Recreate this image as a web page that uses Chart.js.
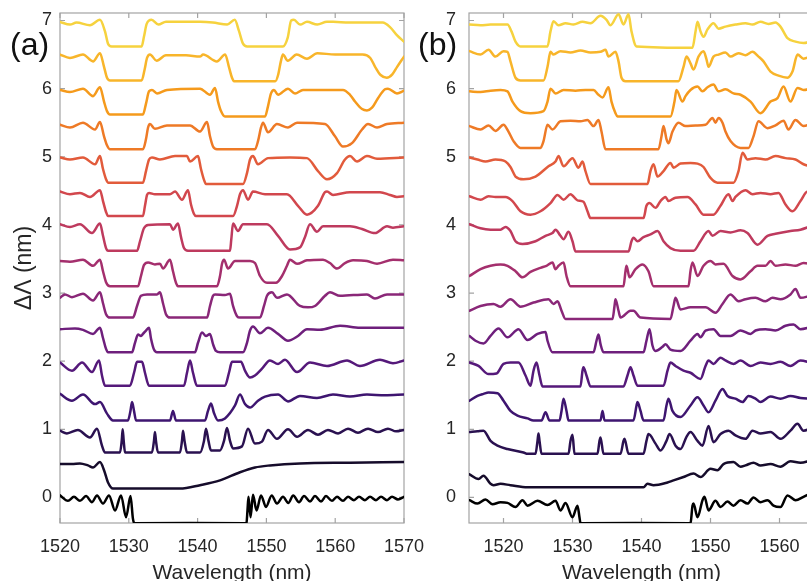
<!DOCTYPE html>
<html>
<head>
<meta charset="utf-8">
<script src="https://cdn.jsdelivr.net/npm/chart.js@4.4.1/dist/chart.umd.min.js"></script>
<style>
  html, body { margin: 0; padding: 0; background: #fff; }
  body { width: 807px; height: 581px; overflow: hidden; position: relative; }
  canvas { position: absolute; top: 0; }
  #panelA { left: 0; }
  #panelB { left: 400px; }
</style>
</head>
<body>
<canvas id="panelA" width="440" height="600"></canvas>
<canvas id="panelB" width="480" height="600"></canvas>
<script>
// period offsets (nm) of the stacked spectra, bottom to top
const offsets = [0, 0.5, 1, 1.5, 2, 2.5, 3, 3.5, 4, 4.5, 5, 5.5, 6, 6.5, 7];
const traceColors = [
  "#000000", "#160c2b", "#2a1150", "#3e1570", "#55197a", "#6e1f7c",
  "#8a2778", "#a42f6d", "#be3a5e", "#d2474d", "#e25b3b", "#ee7a26",
  "#f59a1c", "#f8b52a", "#f6d23e"
];
const xTicksA = [1520, 1530, 1540, 1550, 1560, 1570];
const xTicksB = [1520, 1530, 1540, 1550, 1560];
const yTicks = [0, 1, 2, 3, 4, 5, 6, 7];

// (a) simulated spectra, [wavelength nm, shifted level]
const a00 = [[1520,0.03],[1521.16,-0.05],[1522.03,0.01],[1522.9,-0.05],[1523.78,0.02],[1524.65,-0.07],[1525.38,0.03],[1526.25,-0.09],[1527.12,0.03],[1528.0,-0.19],[1528.87,0.03],[1529.6,-0.29],[1530.25,0.02],[1530.6,-0.31],[1530.8,-0.38],[1547.1,-0.38],[1547.25,-0.19],[1547.4,0.01],[1547.7,-0.29],[1548.05,0.04],[1548.56,-0.19],[1549.22,0.03],[1549.94,-0.14],[1550.77,0.03],[1551.54,-0.09],[1552.41,0.01],[1553.18,-0.08],[1553.9,0.03],[1554.74,-0.07],[1555.47,0.02],[1556.34,-0.06],[1557.06,0.02],[1557.94,-0.06],[1558.66,0.02],[1559.53,-0.05],[1560.26,0.01],[1561.13,-0.05],[1561.86,0.01],[1562.73,-0.04],[1563.46,0.01],[1564.33,-0.04],[1565.06,0.01],[1565.93,-0.04],[1566.66,0.01],[1567.53,-0.04],[1568.26,0.01],[1569.13,-0.03],[1570,0.01]];
const a05 = [[1520,0.49],[1521.74,0.49],[1522.9,0.5],[1524.07,0.47],[1524.8,0.44],[1525.81,0.52],[1526.4,0.4],[1526.98,0.22],[1527.7,0.13],[1528.72,0.13],[1537.44,0.13],[1540.35,0.18],[1543.26,0.25],[1546.16,0.37],[1548.34,0.44],[1550.52,0.47],[1554.88,0.5],[1562.15,0.51],[1570,0.52]];
const a10 = [[1520,0.98],[1521.0,0.94],[1522.6,0.99],[1524.36,0.88],[1525.38,1.01],[1526.1,0.76],[1526.54,0.66],[1528.72,0.66],[1528.97,0.83],[1529.11,1.0],[1529.26,0.83],[1529.45,0.66],[1533.37,0.66],[1533.66,0.83],[1533.8,0.96],[1533.95,0.83],[1534.24,0.66],[1537.44,0.66],[1537.73,0.83],[1537.88,0.98],[1538.1,0.83],[1538.46,0.66],[1540.35,0.66],[1540.93,0.83],[1541.22,1.01],[1541.58,0.83],[1541.95,0.69],[1543.26,0.69],[1543.84,0.83],[1544.27,1.02],[1544.71,0.83],[1545.15,0.72],[1546.45,0.75],[1547.33,1.01],[1548.34,0.79],[1549.36,0.82],[1550.23,0.99],[1551.54,0.86],[1553.14,1.0],[1554.45,0.89],[1556.05,0.99],[1557.5,0.92],[1558.95,0.99],[1560.41,0.94],[1561.86,1.01],[1563.31,0.95],[1564.77,1.01],[1566.22,0.96],[1567.67,1.01],[1568.84,0.97],[1570,0.99]];
const a15 = [[1520,1.52],[1521.74,1.42],[1523.34,1.51],[1525.09,1.37],[1525.81,1.4],[1526.83,1.23],[1527.7,1.13],[1529.88,1.13],[1530.24,1.27],[1530.47,1.4],[1530.76,1.27],[1531.05,1.13],[1535.99,1.13],[1536.42,1.27],[1536.86,1.13],[1541.08,1.13],[1541.51,1.27],[1541.95,1.38],[1542.38,1.24],[1542.97,1.13],[1543.98,1.16],[1545.44,1.35],[1546.16,1.51],[1546.89,1.37],[1547.62,1.32],[1548.78,1.42],[1549.8,1.48],[1551.69,1.51],[1553.14,1.41],[1554.88,1.49],[1557.35,1.46],[1559.68,1.51],[1562.15,1.48],[1564.62,1.51],[1567.24,1.5],[1570,1.51]];
const a20 = [[1520,1.98],[1521.74,1.86],[1523.2,1.98],[1524.65,1.84],[1525.67,2.01],[1526.1,1.79],[1526.54,1.64],[1530.17,1.64],[1530.76,1.83],[1531.2,1.99],[1531.92,1.99],[1532.35,1.83],[1532.94,1.64],[1538.02,1.64],[1538.46,1.83],[1538.9,2.01],[1539.33,1.83],[1539.91,1.64],[1543.98,1.64],[1544.56,1.83],[1545.0,1.99],[1546.31,1.99],[1546.89,1.86],[1547.62,1.76],[1548.34,1.79],[1549.36,1.89],[1550.52,2.01],[1551.69,1.96],[1552.7,2.02],[1554.45,1.84],[1556.34,1.98],[1558.81,1.93],[1561.72,2.01],[1563.6,1.93],[1566.51,2.02],[1568.4,1.97],[1570,2.01]];
const a25 = [[1520,2.47],[1522.18,2.48],[1523.34,2.46],[1524.8,2.4],[1525.81,2.49],[1526.25,2.34],[1526.69,2.18],[1526.98,2.13],[1530.47,2.13],[1530.9,2.27],[1531.34,2.39],[1531.77,2.37],[1532.06,2.4],[1532.5,2.45],[1532.94,2.49],[1533.23,2.33],[1533.66,2.17],[1534.1,2.13],[1539.62,2.13],[1540.06,2.27],[1540.64,2.42],[1541.22,2.37],[1541.8,2.4],[1542.24,2.25],[1542.67,2.15],[1543.26,2.13],[1546.6,2.13],[1547.18,2.27],[1547.62,2.45],[1548.05,2.51],[1549.07,2.41],[1550.23,2.49],[1551.69,2.4],[1553.14,2.3],[1554.59,2.37],[1555.9,2.47],[1557.79,2.46],[1560.7,2.52],[1563.6,2.49],[1570,2.49]];
const a30 = [[1520,2.93],[1520.73,2.98],[1521.74,2.94],[1523.34,2.99],[1524.8,2.89],[1525.81,3.01],[1526.25,2.85],[1526.69,2.69],[1527.27,2.64],[1530.6,2.64],[1531.2,2.81],[1531.77,2.96],[1532.65,2.98],[1534.1,2.98],[1534.53,3.01],[1534.97,2.85],[1535.4,2.69],[1535.99,2.64],[1541.37,2.64],[1541.8,2.81],[1542.24,2.96],[1542.53,2.98],[1543.98,2.97],[1544.71,2.99],[1545.15,2.81],[1545.73,2.66],[1546.16,2.64],[1549.07,2.64],[1549.65,2.81],[1550.09,2.96],[1550.81,3.01],[1551.54,2.93],[1552.99,2.98],[1554.88,2.81],[1556.05,2.79],[1557.06,2.81],[1558.52,2.96],[1559.24,3.01],[1560.7,2.96],[1564.62,2.98],[1565.78,2.92],[1567.53,2.98],[1570,2.98]];
const a35 = [[1520,3.47],[1521.45,3.46],[1523.34,3.49],[1524.8,3.4],[1525.81,3.49],[1526.25,3.32],[1526.69,3.16],[1527.27,3.1],[1531.34,3.1],[1531.77,3.25],[1532.2,3.41],[1532.8,3.45],[1533.8,3.42],[1534.53,3.43],[1534.97,3.36],[1535.99,3.49],[1536.42,3.32],[1536.86,3.15],[1537.15,3.1],[1542.82,3.1],[1543.26,3.25],[1543.55,3.43],[1543.84,3.49],[1544.42,3.36],[1545.44,3.47],[1547.62,3.47],[1548.34,3.44],[1549.07,3.25],[1550.09,3.15],[1551.4,3.15],[1552.27,3.25],[1552.99,3.4],[1553.43,3.49],[1554.45,3.43],[1555.9,3.48],[1558.23,3.49],[1559.24,3.44],[1560.26,3.36],[1561.42,3.44],[1562.59,3.48],[1564.62,3.47],[1566.08,3.43],[1568.4,3.49],[1570,3.48]];
const a40 = [[1520,4.01],[1521.45,3.97],[1522.9,4.01],[1524.65,3.88],[1525.81,4.02],[1526.25,3.84],[1526.69,3.66],[1526.98,3.62],[1531.2,3.62],[1531.63,3.76],[1532.2,3.95],[1532.8,4.0],[1535.99,4.01],[1536.42,3.93],[1537.15,4.02],[1537.59,3.82],[1538.02,3.66],[1538.6,3.62],[1544.71,3.62],[1544.9,3.79],[1545.15,4.02],[1545.87,3.91],[1546.6,4.01],[1550.09,4.01],[1551.69,3.84],[1553.43,3.64],[1554.88,3.67],[1555.6,3.82],[1556.34,4.01],[1557.35,3.9],[1558.23,3.98],[1562.15,3.98],[1563.9,3.94],[1565.78,3.88],[1567.53,3.98],[1568.4,3.96],[1570,3.98]];
const a45 = [[1520,4.49],[1521.45,4.45],[1522.9,4.47],[1524.36,4.41],[1525.81,4.51],[1526.25,4.35],[1526.69,4.19],[1526.98,4.13],[1532.06,4.13],[1532.35,4.28],[1532.65,4.44],[1532.94,4.47],[1533.8,4.45],[1535.99,4.45],[1536.72,4.49],[1537.73,4.37],[1538.6,4.51],[1539.04,4.3],[1539.48,4.16],[1539.77,4.13],[1545.15,4.13],[1545.73,4.28],[1546.16,4.45],[1546.6,4.51],[1547.33,4.37],[1548.05,4.49],[1549.8,4.45],[1552.99,4.45],[1554.59,4.28],[1555.9,4.15],[1557.5,4.28],[1558.52,4.48],[1558.81,4.49],[1559.68,4.44],[1562.15,4.48],[1566.51,4.48],[1567.97,4.44],[1568.98,4.41],[1570,4.42]];
const a50 = [[1520,4.99],[1521.45,4.96],[1523.34,4.99],[1525.09,4.89],[1525.81,5.01],[1526.25,4.82],[1526.69,4.67],[1526.98,4.62],[1532.06,4.62],[1532.5,4.79],[1532.94,4.96],[1533.37,4.99],[1534.53,4.96],[1536.72,5.01],[1538.46,5.01],[1538.9,4.93],[1540.06,5.01],[1540.49,4.82],[1540.93,4.66],[1541.22,4.6],[1546.6,4.6],[1547.18,4.76],[1547.62,4.96],[1548.05,5.01],[1548.78,4.89],[1550.23,4.98],[1553.43,4.99],[1555.9,4.98],[1557.5,4.79],[1558.81,4.67],[1560.26,4.76],[1561.42,4.96],[1562.15,5.01],[1563.17,4.93],[1564.62,5.01],[1566.08,4.97],[1570,4.99]];
const a55 = [[1520,5.47],[1521.45,5.43],[1523.34,5.5],[1525.09,5.4],[1525.81,5.51],[1526.4,5.3],[1526.83,5.17],[1527.27,5.11],[1532.06,5.11],[1532.5,5.26],[1532.8,5.43],[1533.08,5.48],[1533.8,5.41],[1535.55,5.46],[1538.9,5.46],[1540.35,5.37],[1541.37,5.51],[1541.8,5.3],[1542.24,5.15],[1542.82,5.11],[1548.34,5.11],[1548.78,5.23],[1549.22,5.43],[1549.51,5.5],[1550.23,5.36],[1551.54,5.48],[1553.14,5.43],[1554.45,5.5],[1558.52,5.48],[1559.97,5.3],[1561.13,5.15],[1562.44,5.2],[1563.9,5.4],[1564.77,5.48],[1566.08,5.43],[1567.53,5.48],[1570,5.5]];
const a60 = [[1520,5.98],[1521.45,5.95],[1523.34,6.0],[1524.8,5.89],[1525.81,6.02],[1526.4,5.81],[1526.83,5.67],[1527.27,5.62],[1532.06,5.62],[1532.5,5.78],[1532.94,5.96],[1533.37,5.98],[1534.1,5.93],[1535.55,5.98],[1540.35,6.0],[1541.8,5.91],[1542.53,6.01],[1542.97,5.81],[1543.4,5.67],[1543.98,5.59],[1549.8,5.59],[1550.23,5.74],[1550.67,5.93],[1551.1,5.98],[1551.69,5.91],[1553.14,6.0],[1554.16,5.93],[1555.32,5.98],[1561.13,5.98],[1562.15,5.91],[1562.88,5.81],[1563.9,5.7],[1564.62,5.68],[1565.35,5.72],[1566.22,5.86],[1567.24,5.99],[1567.67,6.0],[1568.98,5.93],[1570,5.97]];
const a65 = [[1520,6.5],[1521.45,6.45],[1523.34,6.5],[1524.8,6.4],[1525.81,6.52],[1526.4,6.32],[1526.83,6.16],[1527.27,6.12],[1531.87,6.12],[1532.3,6.28],[1532.65,6.45],[1533.08,6.5],[1534.05,6.41],[1535.4,6.49],[1538.31,6.49],[1540.35,6.47],[1540.8,6.5],[1542.8,6.4],[1544.0,6.5],[1544.6,6.3],[1545.0,6.16],[1545.3,6.11],[1551.3,6.11],[1551.7,6.2],[1552.1,6.4],[1552.4,6.5],[1553.1,6.41],[1554.4,6.5],[1555.9,6.44],[1557.4,6.52],[1560,6.5],[1564.0,6.5],[1565.1,6.45],[1565.8,6.32],[1566.6,6.2],[1567.5,6.16],[1568.3,6.21],[1569.0,6.32],[1570,6.47]];
const a70 = [[1520,6.98],[1521.45,6.94],[1522.4,6.97],[1524.36,6.93],[1525.81,7.01],[1526.54,6.84],[1526.98,6.66],[1527.5,6.62],[1531.87,6.62],[1532.2,6.76],[1532.6,6.95],[1533.3,7.01],[1534.3,6.94],[1535.4,6.98],[1537.4,6.98],[1540.35,6.98],[1542.2,6.97],[1544.3,6.94],[1545.4,7.01],[1546.0,6.85],[1546.6,6.66],[1547.2,6.62],[1552.4,6.62],[1553.1,6.75],[1553.6,7.0],[1554.0,7.01],[1554.9,6.94],[1555.9,6.98],[1557.4,6.94],[1558.8,6.98],[1559.7,6.98],[1562.0,6.97],[1564.5,6.97],[1566.9,6.97],[1568.0,6.9],[1569.0,6.78],[1570,6.69]];

// (b) measured spectra
const b00 = [[1515.07,-0.04],[1516.23,-0.09],[1517.39,-0.03],[1518.41,-0.1],[1519.57,-0.07],[1520.58,-0.08],[1521.74,-0.14],[1522.75,-0.04],[1523.48,-0.12],[1524.93,-0.05],[1526.38,-0.11],[1527.54,-0.05],[1528.26,-0.19],[1528.99,-0.08],[1530.0,-0.29],[1530.72,-0.12],[1531.01,-0.29],[1531.16,-0.38],[1547.1,-0.38],[1547.39,-0.12],[1547.54,-0.09],[1548.12,-0.29],[1548.84,-0.04],[1549.13,0.01],[1549.71,-0.19],[1550.72,-0.05],[1551.45,-0.14],[1552.46,-0.06],[1553.33,-0.12],[1554.35,-0.04],[1555.36,-0.09],[1556.23,0.0],[1557.25,-0.07],[1558.26,-0.04],[1559.13,-0.12],[1560.14,-0.14],[1561.16,0.03],[1562.32,-0.04],[1563.48,0.01],[1564.49,0.06]];
const b05 = [[1515.07,0.34],[1516.38,0.27],[1517.1,0.32],[1518.12,0.2],[1518.55,0.18],[1519.57,0.2],[1521.01,0.18],[1523.48,0.15],[1528.26,0.15],[1534.06,0.15],[1540.29,0.15],[1540.87,0.2],[1541.74,0.18],[1543.77,0.22],[1544.64,0.25],[1546.09,0.3],[1547.54,0.35],[1548.55,0.3],[1550.0,0.42],[1551.01,0.4],[1551.88,0.49],[1553.33,0.52],[1554.35,0.45],[1555.07,0.47],[1556.23,0.51],[1557.25,0.47],[1558.7,0.49],[1560.14,0.45],[1561.59,0.53],[1563.04,0.51],[1564.49,0.54]];
const b10 = [[1515.07,0.96],[1516.23,0.97],[1517.1,0.98],[1518.12,0.83],[1519.13,0.76],[1520.58,0.71],[1522.9,0.66],[1523.48,0.64],[1524.64,0.64],[1524.93,0.83],[1525.07,0.94],[1525.22,0.83],[1525.51,0.64],[1529.42,0.64],[1529.71,0.83],[1530.0,0.92],[1530.29,0.64],[1533.62,0.64],[1533.91,0.83],[1534.06,0.88],[1534.49,0.64],[1536.96,0.64],[1537.39,0.83],[1537.54,0.86],[1538.12,0.64],[1540.29,0.64],[1540.72,0.83],[1541.01,0.93],[1542.03,0.79],[1542.75,0.69],[1543.62,0.83],[1544.06,0.93],[1544.93,0.76],[1545.65,0.71],[1546.52,0.89],[1547.1,0.96],[1548.12,0.83],[1548.84,0.76],[1549.71,1.05],[1550.43,0.81],[1551.45,0.93],[1552.61,0.98],[1553.62,0.91],[1555.07,0.86],[1556.09,0.98],[1557.25,0.94],[1558.7,0.96],[1560.14,0.86],[1561.59,0.98],[1562.61,1.08],[1563.48,0.98],[1564.49,1.01]];
const b15 = [[1515.07,1.42],[1516.23,1.49],[1517.1,1.52],[1517.83,1.54],[1519.13,1.53],[1520.0,1.42],[1521.01,1.27],[1522.03,1.2],[1523.48,1.16],[1524.35,1.13],[1525.51,1.13],[1526.09,1.25],[1526.67,1.13],[1528.12,1.13],[1528.41,1.27],[1528.7,1.45],[1529.13,1.27],[1529.42,1.13],[1534.06,1.13],[1534.35,1.27],[1534.64,1.13],[1538.84,1.13],[1539.28,1.35],[1539.42,1.4],[1539.86,1.27],[1540.29,1.13],[1543.19,1.13],[1543.62,1.35],[1543.91,1.45],[1544.49,1.27],[1545.65,1.18],[1547.1,1.35],[1548.12,1.47],[1548.99,1.35],[1549.71,1.25],[1550.72,1.42],[1551.74,1.59],[1552.46,1.49],[1553.62,1.45],[1554.64,1.4],[1555.51,1.49],[1556.52,1.45],[1557.25,1.4],[1558.7,1.48],[1560.14,1.45],[1561.59,1.49],[1563.04,1.46],[1564.49,1.45]];
const b20 = [[1515.07,1.98],[1516.38,1.93],[1517.83,1.81],[1518.99,1.82],[1520.0,1.96],[1521.01,1.98],[1522.17,1.98],[1523.19,1.79],[1523.91,1.64],[1524.35,1.86],[1524.78,1.98],[1525.22,1.79],[1525.65,1.63],[1531.16,1.63],[1531.45,1.86],[1531.59,1.91],[1532.03,1.79],[1532.61,1.63],[1537.39,1.63],[1537.97,1.79],[1538.41,1.91],[1538.84,1.79],[1539.42,1.64],[1543.19,1.64],[1543.77,1.86],[1544.2,1.98],[1544.93,1.93],[1546.09,1.86],[1547.1,1.83],[1548.55,1.74],[1549.28,1.93],[1549.71,2.01],[1550.43,1.96],[1551.45,2.05],[1552.17,2.01],[1553.33,1.96],[1554.35,2.01],[1555.8,1.93],[1557.25,1.98],[1558.7,1.96],[1560.14,1.99],[1561.59,1.93],[1563.04,2.01],[1564.49,1.98]];
const b25 = [[1515.07,2.37],[1515.94,2.3],[1517.1,2.26],[1518.12,2.37],[1519.28,2.48],[1520.58,2.35],[1522.17,2.47],[1523.48,2.31],[1524.93,2.4],[1526.09,2.43],[1526.38,2.3],[1527.1,2.13],[1533.04,2.13],[1533.48,2.3],[1533.77,2.39],[1534.06,2.25],[1534.49,2.13],[1540.29,2.13],[1540.72,2.3],[1541.16,2.47],[1541.59,2.23],[1542.03,2.15],[1543.04,2.21],[1543.48,2.25],[1544.2,2.17],[1545.65,2.15],[1547.1,2.3],[1548.12,2.4],[1548.55,2.35],[1549.28,2.45],[1550.43,2.47],[1551.45,2.37],[1552.9,2.37],[1554.35,2.45],[1555.8,2.4],[1556.52,2.45],[1557.97,2.47],[1559.42,2.45],[1560.87,2.52],[1562.03,2.54],[1563.04,2.47],[1564.49,2.5]];
const b30 = [[1515.07,2.74],[1516.67,2.81],[1518.55,2.84],[1519.57,2.8],[1521.01,2.91],[1522.46,2.8],[1524.35,2.86],[1526.52,2.91],[1527.25,2.84],[1527.83,2.88],[1528.41,2.74],[1528.99,2.62],[1535.8,2.62],[1536.09,2.81],[1536.23,2.91],[1536.67,2.74],[1536.96,2.64],[1538.41,2.74],[1538.84,2.74],[1539.86,2.64],[1544.2,2.62],[1544.64,2.81],[1544.93,2.93],[1545.65,2.76],[1547.1,2.79],[1549.28,2.79],[1550.72,2.71],[1551.74,2.84],[1552.9,2.98],[1554.06,2.88],[1555.07,2.91],[1556.52,2.93],[1557.97,2.88],[1558.99,2.93],[1560.14,2.91],[1561.59,2.98],[1562.32,3.06],[1563.04,2.93],[1564.49,2.96]];
const b35 = [[1515.07,3.25],[1516.67,3.35],[1518.12,3.4],[1519.57,3.42],[1520.58,3.4],[1521.74,3.32],[1522.75,3.23],[1523.91,3.31],[1525.36,3.37],[1526.23,3.4],[1527.1,3.45],[1527.54,3.35],[1527.97,3.4],[1528.7,3.45],[1529.13,3.25],[1529.71,3.1],[1537.39,3.1],[1537.68,3.32],[1537.83,3.4],[1538.26,3.23],[1539.13,3.35],[1540.14,3.42],[1541.01,3.32],[1541.74,3.1],[1546.81,3.1],[1547.1,3.32],[1547.39,3.45],[1548.12,3.25],[1548.99,3.4],[1550.0,3.47],[1550.72,3.42],[1551.88,3.43],[1553.19,3.25],[1554.35,3.2],[1555.8,3.32],[1556.81,3.4],[1557.97,3.4],[1558.7,3.47],[1559.42,3.4],[1560.87,3.42],[1562.32,3.4],[1563.48,3.44],[1564.49,3.43]];
const b40 = [[1515.07,4.01],[1516.67,3.95],[1518.12,3.93],[1519.57,3.93],[1520.29,3.97],[1521.01,3.91],[1521.74,3.76],[1522.75,3.72],[1524.64,3.76],[1526.09,3.84],[1527.1,3.88],[1527.54,3.93],[1528.26,3.84],[1528.7,3.79],[1529.42,3.9],[1530.0,3.76],[1530.43,3.61],[1538.12,3.61],[1538.55,3.76],[1538.84,3.81],[1539.42,3.76],[1540.29,3.82],[1541.3,3.86],[1542.32,3.91],[1543.19,3.76],[1544.2,3.66],[1545.65,3.62],[1547.54,3.62],[1548.55,3.76],[1549.71,3.91],[1550.29,3.84],[1551.45,3.91],[1552.9,3.89],[1554.35,3.92],[1555.36,3.88],[1556.81,3.71],[1558.26,3.84],[1559.42,3.87],[1561.59,3.91],[1563.04,3.93],[1564.49,3.98]];
const b45 = [[1515.07,4.42],[1516.67,4.37],[1517.83,4.42],[1518.84,4.41],[1520.29,4.41],[1521.3,4.35],[1522.46,4.2],[1523.91,4.15],[1525.36,4.2],[1526.81,4.32],[1527.83,4.44],[1528.7,4.37],[1529.71,4.45],[1530.72,4.36],[1531.59,4.34],[1532.17,4.2],[1532.61,4.1],[1540.29,4.1],[1540.72,4.28],[1541.16,4.32],[1542.03,4.25],[1542.75,4.35],[1543.48,4.41],[1543.91,4.35],[1544.93,4.4],[1546.67,4.41],[1547.83,4.3],[1548.99,4.15],[1550.43,4.15],[1551.45,4.28],[1552.61,4.45],[1553.19,4.35],[1553.62,4.41],[1555.07,4.51],[1556.09,4.45],[1557.25,4.47],[1558.7,4.45],[1559.86,4.47],[1560.87,4.3],[1561.88,4.2],[1563.04,4.35],[1564.06,4.49],[1564.49,4.49]];
const b50 = [[1515.07,4.99],[1516.23,4.96],[1517.39,4.93],[1518.84,4.96],[1520.29,4.93],[1521.01,4.85],[1521.74,4.71],[1522.9,4.67],[1524.64,4.71],[1526.52,4.86],[1527.54,4.93],[1527.97,5.01],[1528.7,4.86],[1530.0,4.98],[1530.87,4.84],[1531.45,4.93],[1531.88,4.79],[1532.61,4.6],[1540.87,4.6],[1541.3,4.79],[1541.74,4.89],[1542.32,4.71],[1543.19,4.79],[1544.2,4.91],[1544.64,4.84],[1545.65,4.9],[1547.1,4.91],[1548.12,4.9],[1548.99,4.85],[1550.0,4.69],[1551.01,4.62],[1553.33,4.62],[1554.06,4.79],[1554.64,5.06],[1555.36,4.96],[1556.52,4.98],[1557.97,4.96],[1559.42,5.01],[1560.87,4.98],[1562.32,4.96],[1563.48,4.89],[1564.49,4.86]];
const b55 = [[1515.07,5.45],[1516.67,5.4],[1517.83,5.46],[1518.84,5.38],[1520.0,5.47],[1520.72,5.37],[1521.45,5.23],[1522.46,5.13],[1525.36,5.13],[1525.8,5.23],[1526.38,5.47],[1527.1,5.4],[1528.26,5.52],[1529.71,5.53],[1531.16,5.52],[1532.17,5.54],[1533.04,5.45],[1533.77,5.54],[1534.2,5.37],[1534.78,5.11],[1542.46,5.11],[1542.9,5.3],[1543.19,5.45],[1543.62,5.26],[1543.91,5.2],[1544.49,5.37],[1545.36,5.5],[1546.38,5.45],[1547.83,5.46],[1549.28,5.47],[1550.29,5.57],[1550.72,5.5],[1551.16,5.57],[1551.74,5.5],[1552.17,5.37],[1552.9,5.23],[1554.35,5.13],[1555.51,5.13],[1556.23,5.3],[1556.96,5.52],[1558.26,5.42],[1559.42,5.46],[1560.58,5.53],[1561.3,5.4],[1562.32,5.54],[1563.48,5.45],[1564.49,5.48]];
const b60 = [[1515.07,5.96],[1516.67,5.95],[1518.12,5.97],[1519.57,5.98],[1520.58,5.96],[1521.3,5.81],[1522.46,5.67],[1523.91,5.64],[1525.8,5.67],[1526.38,5.81],[1526.81,6.0],[1527.54,5.93],[1528.7,5.98],[1530.43,5.97],[1531.88,5.98],[1533.04,5.98],[1533.77,5.91],[1534.35,5.87],[1535.22,6.02],[1535.65,5.81],[1536.23,5.64],[1536.52,5.59],[1544.2,5.59],[1544.78,5.81],[1545.07,5.98],[1545.94,5.81],[1546.38,5.89],[1547.1,5.98],[1548.12,6.03],[1548.84,5.96],[1549.57,6.02],[1550.43,6.06],[1551.16,5.96],[1552.17,5.99],[1553.33,5.93],[1554.35,5.91],[1555.8,5.81],[1557.25,5.64],[1558.7,5.81],[1559.71,5.86],[1560.58,6.03],[1561.59,5.81],[1562.61,6.01],[1563.48,5.98],[1564.49,6.0]];
const b65 = [[1515.07,6.55],[1516.67,6.5],[1517.83,6.57],[1518.84,6.47],[1520.0,6.55],[1520.58,6.54],[1521.01,6.4],[1521.74,6.16],[1522.46,6.12],[1525.8,6.12],[1526.38,6.32],[1526.81,6.54],[1527.25,6.5],[1528.26,6.55],[1529.71,6.53],[1531.16,6.56],[1532.61,6.53],[1534.06,6.54],[1534.78,6.57],[1535.22,6.47],[1536.23,6.54],[1536.67,6.4],[1537.1,6.16],[1537.68,6.11],[1545.36,6.11],[1546.09,6.32],[1546.52,6.47],[1547.1,6.37],[1547.54,6.28],[1548.26,6.47],[1548.99,6.55],[1549.42,6.43],[1549.71,6.32],[1550.43,6.47],[1551.16,6.5],[1552.17,6.53],[1552.9,6.47],[1554.06,6.52],[1555.07,6.49],[1556.09,6.54],[1556.96,6.47],[1557.68,6.4],[1558.7,6.25],[1559.86,6.19],[1561.16,6.16],[1561.88,6.25],[1562.61,6.5],[1563.48,6.44],[1564.49,6.47]];
const b70 = [[1515.07,6.94],[1516.67,6.93],[1518.12,6.94],[1519.13,6.94],[1520.58,6.94],[1521.16,6.84],[1521.74,6.69],[1522.46,6.62],[1526.38,6.62],[1526.81,6.84],[1527.25,6.99],[1527.97,6.93],[1528.99,6.96],[1530.14,6.94],[1531.45,6.98],[1532.61,6.96],[1534.06,7.07],[1534.93,7.01],[1535.51,6.93],[1536.67,7.09],[1537.39,6.94],[1538.12,7.09],[1538.55,6.84],[1539.28,6.62],[1547.39,6.6],[1547.83,6.84],[1548.12,6.98],[1548.55,6.84],[1548.99,6.76],[1549.57,6.87],[1550.43,6.96],[1551.16,6.88],[1552.17,6.91],[1553.62,6.94],[1555.07,6.96],[1556.09,6.94],[1557.25,6.98],[1558.41,6.95],[1559.42,6.97],[1560.14,6.91],[1561.16,6.74],[1562.32,6.69],[1563.48,6.67],[1564.49,6.69]];

const seriesA = [a00, a05, a10, a15, a20, a25, a30, a35, a40, a45, a50, a55, a60, a65, a70];
const seriesB = [b00, b05, b10, b15, b20, b25, b30, b35, b40, b45, b50, b55, b60, b65, b70];

Chart.defaults.font.family = "'Liberation Sans', Arial, sans-serif";
Chart.defaults.color = "#262626";

// box around the plot area with short inward ticks on all four sides
const frame = {
  id: "frame",
  beforeDatasetsDraw(chart) {
    const {ctx, chartArea: {left, right, top, bottom}, scales: {x, y}} = chart;
    ctx.save();
    ctx.strokeStyle = "#a3a3a3";
    ctx.lineWidth = 1.2;
    ctx.strokeRect(left, top, right - left, bottom - top);
    ctx.beginPath();
    x.ticks.forEach(t => {
      const px = x.getPixelForValue(t.value);
      ctx.moveTo(px, bottom); ctx.lineTo(px, bottom - 5);
      ctx.moveTo(px, top); ctx.lineTo(px, top + 5);
    });
    y.ticks.forEach(t => {
      const py = y.getPixelForValue(t.value);
      ctx.moveTo(left, py); ctx.lineTo(left + 5, py);
      ctx.moveTo(right, py); ctx.lineTo(right - 5, py);
    });
    ctx.stroke();
    ctx.restore();
  },
  afterDraw(chart, args, opts) {
    const ctx = chart.ctx;
    ctx.save();
    ctx.font = "32px 'Liberation Sans', Arial, sans-serif";
    ctx.fillStyle = "#111";
    ctx.textBaseline = "alphabetic";
    ctx.fillText(opts.letter, opts.letterX, 55);
    ctx.restore();
  }
};

function buildPanel(id, series, xMin, xMax, xTicks, opt) {
  const datasets = series.map((pts, i) => ({
    label: "ΔΛ = " + offsets[i],
    data: pts.map(([x, y]) => ({x, y})),
    borderColor: traceColors[i],
    borderWidth: 2.5,
    pointRadius: 0,
    cubicInterpolationMode: "monotone",
    borderJoinStyle: "round",
    borderCapStyle: "round"
  }));

  return new Chart(document.getElementById(id), {
    type: "line",
    data: {datasets},
    options: {
      responsive: false,
      animation: false,
      devicePixelRatio: 1,
      layout: {padding: {top: 13, right: opt.padRight, bottom: 0, left: 0}},
      plugins: {
        legend: {display: false},
        tooltip: {enabled: false},
        frame: {letter: opt.letter, letterX: opt.letterX}
      },
      scales: {
        x: {
          type: "linear",
          min: xMin,
          max: xMax,
          grid: {display: false},
          border: {display: false},
          afterBuildTicks: s => { s.ticks = xTicks.map(v => ({value: v})); },
          afterFit: s => { s.height = 77; s.paddingLeft = 0; s.paddingRight = 0; },
          ticks: {font: {size: 18}, padding: 5, autoSkip: false, maxRotation: 0, callback: v => String(v)},
          title: {display: true, text: "Wavelength (nm)", font: {size: 21}, padding: {top: 0, bottom: 14}}
        },
        y: {
          type: "linear",
          min: -0.375,
          max: 7.11,
          grid: {display: false},
          border: {display: false},
          afterBuildTicks: s => { s.ticks = yTicks.map(v => ({value: v})); },
          afterFit: s => { s.width = opt.yWidth; s.paddingTop = 0; s.paddingBottom = 0; },
          ticks: {font: {size: 18}, padding: opt.yPad, autoSkip: false, callback: v => String(v)},
          title: {display: opt.yTitle, text: "ΔΛ (nm)", font: {size: 23}, padding: {top: 11, bottom: 0}}
        }
      }
    },
    plugins: [frame]
  });
}

buildPanel("panelA", seriesA, 1520, 1570, xTicksA,
  {padRight: 36, yWidth: 60, yPad: 0, yTitle: true, letter: "(a)", letterX: 10});
buildPanel("panelB", seriesB, 1515, 1565, xTicksB,
  {padRight: 66, yWidth: 69, yPad: 5, yTitle: false, letter: "(b)", letterX: 18});
</script>
</body>
</html>
